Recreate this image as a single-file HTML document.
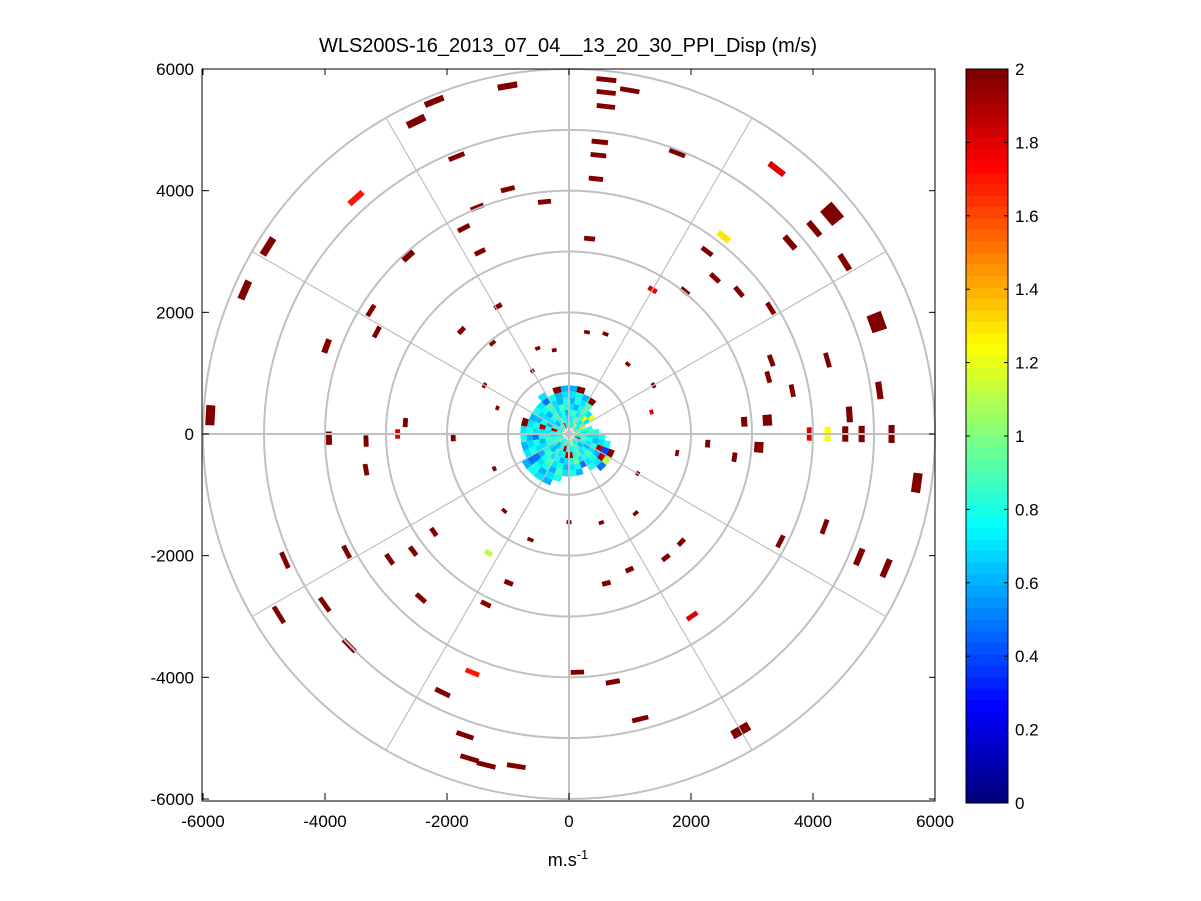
<!DOCTYPE html>
<html><head><meta charset="utf-8"><style>
body{margin:0;background:#fff;}
svg{display:block;font-family:"Liberation Sans",sans-serif;}
</style></head><body>
<svg id="chart" width="1201" height="901" viewBox="0 0 1201 901">
<rect width="1201" height="901" fill="#fff"/>
<text x="568" y="52" text-anchor="middle" font-size="20">WLS200S-16_2013_07_04__13_20_30_PPI_Disp (m/s)</text>
<g id="data"></g>
<g id="grid"></g>
<g id="axes"></g>
<g id="cbar"></g>
<text x="568" y="866" text-anchor="middle" font-size="18">m.s<tspan dy="-7" font-size="13">-1</tspan></text>
</svg>
<script>
// ---- data ----
const segRange=[5810,5860,5650,5420,5740,5900,5720,4830,4610,4220,4950,4920,5530,5220,4150,3840,4020,5630,4120,5820,5820,4800,5250,5330,3230,3800,3330,3940,3760,3510,2740,3020,3640,3900,5370,3830,3570,4230,2450,2400,3530,4410,5140,3730,4610,3400,2880,3260,3120,3940,4240,4530,4800,5290,5890,3940,3330,2810,2690,5760,2740,2280,4460,5170,5650,3890,2560,2580,2440,2530,3610,5630,4830,3920,4140,5610,5530,5580,5240,4730,4230,3110,2360,2640,2740,3630,3200,3590,4130,5100,4890,5010,5610,3380,1900,1750,1500,1600,1400,1800,1300,1700,1550,1450,1850,1650,1350,1250,1950,1500,1700,1200,1600,1400];
const segAz=[350,6,6.2,6.4,10,338,334,6,6,6,21,338,38,318,346,354,338,50,38,302,294,49,50,58,6,333,334,318,37,43,30,39,50,58,70,302,298,290,314,331,70,74,82,79,86,74,86,86,94,90,90,90,90,90,273,269,268,270,274,98,98,94,110,113,113,117,134,142,156,166,146,150,166,178,170,194,189,197,199,206,202,206,214,202,234,222,233,235,242,246,235,226,238,260,268,20,40,60,75,100,120,140,160,180,200,220,245,290,320,340,10,330,300,350];
const segVal=[2,2,2,2,2,2,2,2,2,2,2,2,1.8,1.7,2,2,2,2,1.3,2,2,2,2,2,2,2,2,2,2,2,1.8,2,2,2,2,2,2,2,2,2,2,2,2,2,2,2,2,2,2,1.8,1.25,2,2,2,2,2,2,1.8,2,2,2,2,2,2,2,2,2,2,2,2,1.8,2,2,2,2,2,2,2,2,2,1.7,2,1.1,2,2,2,2,2,2,2,2,2,2,2,2,2,2,2,1.8,2,2,2,2,2,2,2,2,2,2,2,2,2,2,2];
const segDepth=[100,80,80,80,80,100,120,80,80,80,80,80,100,100,80,80,80,250,100,120,120,100,100,100,80,80,80,100,80,80,80,80,80,80,250,80,80,100,80,80,80,80,100,80,100,80,100,150,150,80,100,100,100,100,150,100,80,80,80,150,80,80,80,100,100,80,80,80,80,80,80,150,80,80,80,80,80,80,80,80,80,80,80,80,80,80,80,80,80,80,80,80,80,80,80,60,60,60,60,60,60,60,60,60,60,60,60,60,60,60,60,60,60,60];
const blobRings=[150,250,350,450,550,650,750,850];
const blobVals=[
[0.8,0.7,0.9,1.2,0.8,0.7,0.8,0.9,1.0,0.8,0.7,1.9,0.8,0.9,0.7,0.8,1.2,0.8,0.7,0.9,0.8,0.7,0.8,1.0,0.9,0.8,0.7,0.8,0.9,0.7,0.8,0.9,0.8,1.9,0.8,0.7],
[0.7,0.8,1.0,0.8,0.7,0.9,1.3,0.8,0.7,0.8,0.9,0.8,0.7,0.6,0.8,0.9,0.8,0.7,0.8,1.9,0.8,0.7,0.6,0.8,0.9,0.8,0.7,0.8,1.9,0.8,0.7,0.6,0.8,0.9,0.8,0.7],
[0.8,0.9,0.7,0.8,1.2,0.7,null,0.8,0.9,0.7,0.8,0.7,0.6,0.8,0.7,0.9,0.8,1.9,1.9,0.8,0.7,0.8,0.6,0.7,0.8,0.9,0.8,0.7,0.8,0.6,0.7,0.8,0.9,0.7,0.8,0.6],
[0.7,0.6,0.8,0.9,0.7,1.2,null,null,0.8,0.7,0.6,0.8,0.7,0.9,0.8,0.7,1.0,0.8,0.7,0.6,0.8,0.7,0.9,0.8,0.7,0.6,0.8,0.7,1.9,0.8,0.7,0.6,0.8,0.7,0.9,0.8],
[0.6,0.8,0.7,0.9,null,null,null,null,null,0.8,0.7,1.9,0.6,0.8,0.7,0.5,0.8,0.7,0.6,0.8,0.7,0.9,0.8,0.6,0.7,0.8,0.5,0.7,0.8,0.6,0.7,0.8,0.9,0.7,0.6,0.8],
[0.7,0.8,0.6,2,null,null,null,null,null,null,0.8,0.4,1.9,0.7,0.8,null,0.6,0.8,0.7,0.9,0.6,0.8,0.7,0.5,0.8,0.7,0.6,0.8,0.7,0.6,0.8,0.7,0.5,0.8,0.6,0.7],
[0.6,2,null,null,null,null,null,null,null,null,null,2,1.1,0.5,null,null,null,null,null,0.8,0.7,0.6,0.8,0.5,0.7,0.6,0.8,0.7,2,null,null,null,0.7,null,2,0.6],
[null,null,null,null,null,null,null,null,null,null,null,null,null,null,null,null,null,null,null,null,0.6,0.7,0.8,0.6,null,null,null,null,null,null,null,null,null,null,null,null]];
const xTicks=[-6000,-4000,-2000,0,2000,4000,6000];
const yTicks=[6000,4000,2000,0,-2000,-4000,-6000];
const cbTicks=[0,0.2,0.4,0.6,0.8,1,1.2,1.4,1.6,1.8,2];
// ---- scales ----
const L=203,R=935,T=69,B=799;
const X=v=>L+(v+6000)/12000*(R-L);
const Y=v=>T+(6000-v)/12000*(B-T);
const NS='http://www.w3.org/2000/svg';
function mk(tag,attrs,parent){const e=document.createElementNS(NS,tag);for(const k in attrs)e.setAttribute(k,attrs[k]);parent.appendChild(e);return e;}
function jet(t){t=Math.max(0,Math.min(1,t));t=Math.floor(t*63.999)/63;
 const r=Math.max(0,Math.min(1,Math.min(4*t-1.5,-4*t+4.5)));
 const g=Math.max(0,Math.min(1,Math.min(4*t-0.5,-4*t+3.5)));
 const b=Math.max(0,Math.min(1,Math.min(4*t+0.5,-4*t+2.5)));
 return `rgb(${Math.round(r*255)},${Math.round(g*255)},${Math.round(b*255)})`;}
const P=(r,az)=>{const a=az*Math.PI/180;return [X(r*Math.sin(a)),Y(r*Math.cos(a))];};
function sector(r0,r1,a0,a1){const p1=P(r0,a0),p2=P(r0,a1),p3=P(r1,a1),p4=P(r1,a0);
 return `M${p1[0].toFixed(1)},${p1[1].toFixed(1)}L${p2[0].toFixed(1)},${p2[1].toFixed(1)}L${p3[0].toFixed(1)},${p3[1].toFixed(1)}L${p4[0].toFixed(1)},${p4[1].toFixed(1)}Z`;}
const dataG=document.getElementById('data');
blobRings.forEach((r,i)=>{blobVals[i].forEach((v,j)=>{if(v===null)return;
 const p=mk('path',{d:sector(r-50,r+50,j*10,j*10+10),fill:jet(v/2)},dataG);
 
 });});
segRange.forEach((r,i)=>{const w=1.6;
 const p=mk('path',{d:sector(r-segDepth[i]/2,r+segDepth[i]/2,segAz[i]-w,segAz[i]+w),fill:jet(segVal[i]/2)},dataG);
 
 });
// grid
const gridG=document.getElementById('grid');
[1000,2000,3000,4000,5000,6000].forEach(r=>{const c=mk('ellipse',{cx:X(0),cy:Y(0),rx:X(r)-X(0),ry:Y(0)-Y(r),fill:'none',stroke:'#c0c0c0','stroke-width':2},gridG);
 
 });
for(let a=0;a<360;a+=30){const p=P(6000,a);const l=mk('line',{x1:X(0),y1:Y(0),x2:p[0],y2:p[1],stroke:'#c0c0c0','stroke-width':a%90?1.2:2},gridG);
 
 }
// axes
const ax=document.getElementById('axes');
const box=mk('rect',{x:L-1,y:T,width:R-L+1,height:B-T+2,fill:'none',stroke:'#000','stroke-width':1},ax);


xTicks.forEach(v=>{const x=X(v);mk('line',{x1:x,y1:B+1,x2:x,y2:B-6,stroke:'#000'},ax);mk('line',{x1:x,y1:T,x2:x,y2:T+6,stroke:'#000'},ax);
 const t=mk('text',{x:x,y:B+28,'text-anchor':'middle','font-size':17},ax);t.textContent=v;
 
 });
yTicks.forEach(v=>{const y=Y(v);mk('line',{x1:L-1,y1:y,x2:L+6,y2:y,stroke:'#000'},ax);mk('line',{x1:R,y1:y,x2:R-6,y2:y,stroke:'#000'},ax);
 const t=mk('text',{x:L-9,y:y+6,'text-anchor':'end','font-size':17},ax);t.textContent=v;
 
 });
// colorbar
const cb=document.getElementById('cbar');const cx0=966,cx1=1008,cy0=69,cy1=803;
for(let i=0;i<64;i++){const h=(cy1-cy0)/64;mk('rect',{x:cx0,y:cy1-(i+1)*h,width:cx1-cx0,height:h+0.5,fill:jet(i/63)},cb);}
mk('rect',{x:cx0,y:cy0,width:cx1-cx0,height:cy1-cy0,fill:'none',stroke:'#000'},cb);
cbTicks.forEach(v=>{const y=cy1-v/2*(cy1-cy0);mk('line',{x1:cx0,y1:y,x2:cx0+4,y2:y,stroke:'#000'},cb);mk('line',{x1:cx1,y1:y,x2:cx1-4,y2:y,stroke:'#000'},cb);
 const t=mk('text',{x:1015,y:y+6,'font-size':17},cb);t.textContent=String(v);
 
 });
</script>
</body></html>
